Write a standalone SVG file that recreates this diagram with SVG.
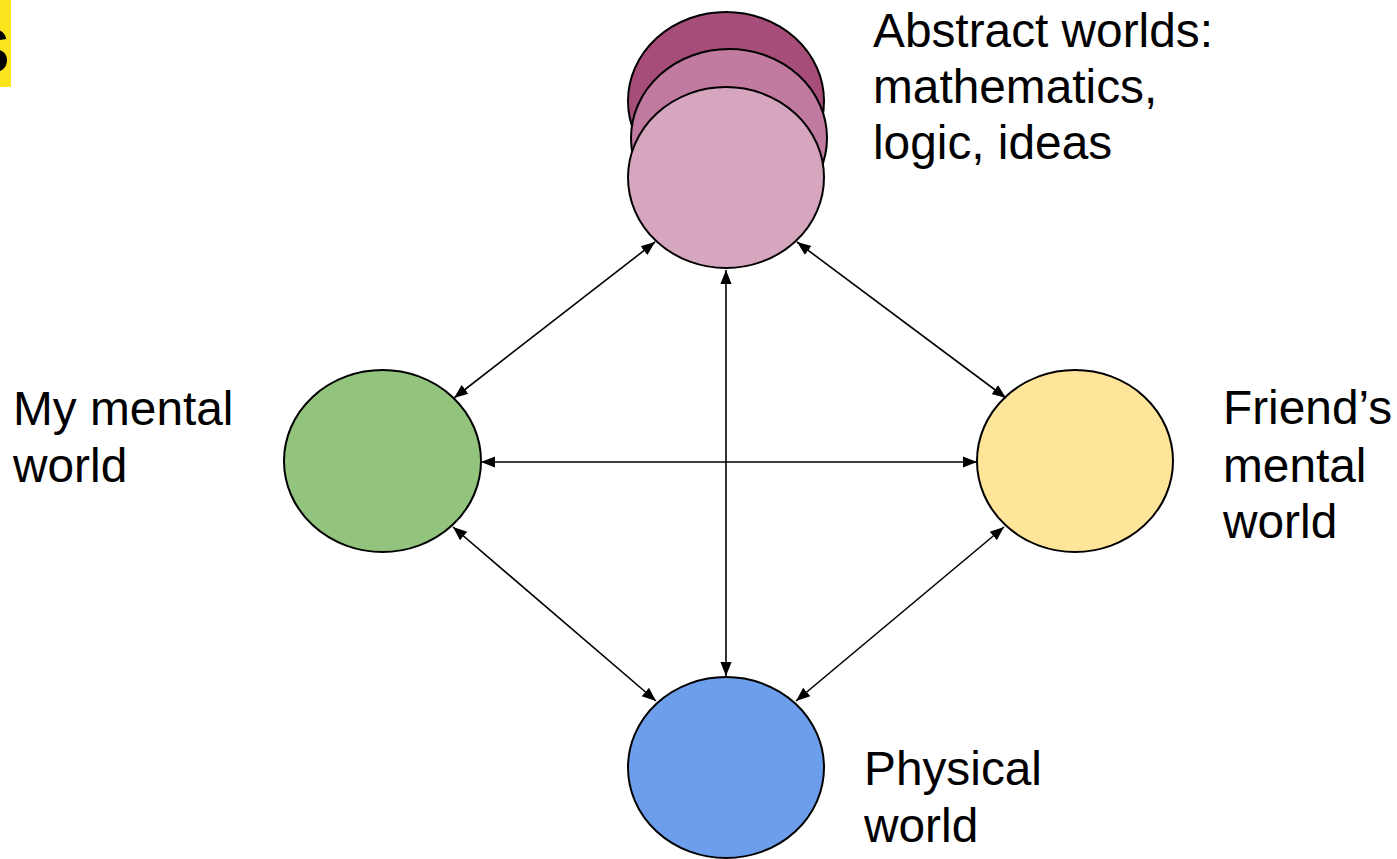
<svg xmlns="http://www.w3.org/2000/svg" width="1397" height="859" viewBox="0 0 1397 859">
<style>
.lbl{font-family:"Liberation Sans",Arial,sans-serif;font-size:47.8px;fill:#000}
.node{stroke:#000;stroke-width:2}
.conn{stroke:#000;stroke-width:1.6;fill:none;marker-start:url(#ah);marker-end:url(#ah)}
</style>
<defs>
<marker id="ah" viewBox="0 0 10 10" refX="10" refY="5" markerWidth="14" markerHeight="14" markerUnits="userSpaceOnUse" orient="auto-start-reverse">
<path d="M0,1 L10,5 L0,9 z" fill="#000"/>
</marker>
</defs>
<rect width="1397" height="859" fill="#fff"/>
<g id="title-fragment">
<rect x="0" y="0" width="11" height="87" fill="#fce51c"/>
<text x="10" y="72" text-anchor="end" style="font-family:'Liberation Sans',Arial,sans-serif;font-size:82px;fill:#000">s</text>
</g>
<g id="abstract">
<ellipse class="node" cx="726" cy="101" rx="98" ry="89" fill="#a64d79"/>
<ellipse class="node" cx="729" cy="138" rx="98" ry="89" fill="#c27ba0"/>
<ellipse class="node" cx="726" cy="177.5" rx="98" ry="90.5" fill="#d5a6bd"/>
<text class="lbl" x="873" y="47">Abstract worlds:</text>
<text class="lbl" x="873" y="103">mathematics,</text>
<text class="lbl" x="873" y="159">logic, ideas</text>
</g>
<g id="my-mental">
<ellipse class="node" cx="382.5" cy="461" rx="98.5" ry="91" fill="#93c47d"/>
<text class="lbl" x="13" y="425">My mental</text>
<text class="lbl" x="13" y="482">world</text>
</g>
<g id="friend-mental">
<ellipse class="node" cx="1075" cy="461" rx="98" ry="91" fill="#ffe599"/>
<text class="lbl" x="1223" y="424">Friend’s</text>
<text class="lbl" x="1223" y="482">mental</text>
<text class="lbl" x="1223" y="538">world</text>
</g>
<g id="physical">
<ellipse class="node" cx="726" cy="767.5" rx="98" ry="90.5" fill="#6d9eeb"/>
<text class="lbl" x="864" y="785">Physical</text>
<text class="lbl" x="864" y="842">world</text>
</g>
<g id="connectors">
<line class="conn" x1="655" y1="242" x2="454" y2="398"/>
<line class="conn" x1="797" y1="242" x2="1006" y2="398"/>
<line class="conn" x1="726" y1="270" x2="726" y2="676"/>
<line class="conn" x1="481" y1="462" x2="977" y2="462"/>
<line class="conn" x1="453" y1="527" x2="656" y2="701"/>
<line class="conn" x1="1004" y1="527" x2="796" y2="701"/>
</g>
</svg>
